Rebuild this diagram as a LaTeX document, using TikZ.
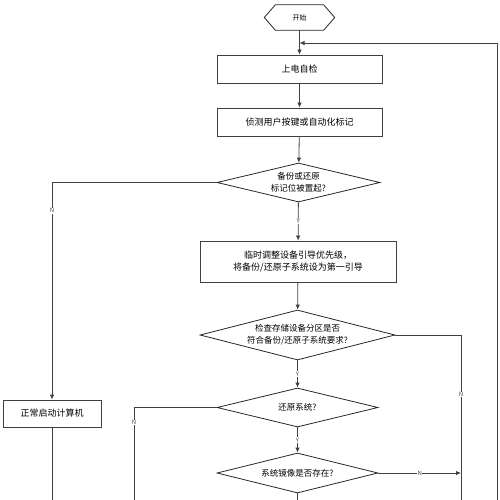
\documentclass[tikz,border=0pt]{standalone}
\usepackage{fontspec}
\setmainfont{Noto Sans CJK SC}
\usetikzlibrary{shapes,arrows.meta,positioning,calc}
\usepackage{xcolor}

\begin{document}
\begin{tikzpicture}[x=1pt,y=-1pt,
    proc/.style={draw=black!75, line width=0.8pt, minimum height=28pt, inner sep=0pt,
                 align=center, font=\fontsize{9}{12}\selectfont},
    decide/.style={draw=black!85, line width=0.8pt, diamond, aspect=4.1, inner sep=0pt,
                   align=center, font=\fontsize{8.5}{12}\selectfont},
    yn/.style={font=\fontsize{6}{6}\selectfont, fill=white, inner sep=0.6pt, text=black!70},
    line/.style={draw=black!75, line width=0.8pt},
    arr/.style={line, -{Latex[length=5pt,width=4.5pt]}}]
            \useasboundingbox (0,0) rectangle (500,500);

            % Start
            \node[minimum width=70pt, minimum height=25pt, inner sep=0pt,
                  font=\fontsize{7}{7}\selectfont] (start) at (299.5,17.5) {开始};
            \draw[line, draw=black!85] (start.west) -- ([xshift=11pt]start.north west)
                -- ([xshift=-11pt]start.north east) -- (start.east)
                -- ([xshift=-11pt]start.south east) -- ([xshift=11pt]start.south west) -- cycle;

            % Main column
            \node[proc, minimum width=165pt] (power) at (299.5,69) {上电自检};
            \node[proc, minimum width=165pt] (detect) at (299.5,122) {侦测用户按键或自动化标记};
            \node[decide, minimum width=163pt, minimum height=39pt] (flag) at (298.5,182.5)
                {备份或还原\\标记位被置起?};
            \node[proc, minimum width=196pt, minimum height=41pt] (setboot) at (298,261.5)
                {临时调整设备引导优先级，\\将备份/还原子系统设为第一引导};
            \node[decide, aspect=3.9, minimum width=195pt, minimum height=50pt] (part) at (297.5,335)
                {检查存储设备分区是否\\符合备份/还原子系统要求?};
            \node[decide, minimum width=161pt, minimum height=39pt] (restore) at (297.5,407.5)
                {还原系统?};
            \node[decide, minimum width=161pt, minimum height=40pt] (image) at (297.5,473)
                {系统镜像是否存在?};

            % Left branch
            \node[proc, minimum width=98pt, minimum height=27pt] (normal) at (52,413.5) {正常启动计算机};

            % Free ends
            \coordinate (merge) at (299.5,43);
            \coordinate (loopend) at (497,500);
            \coordinate (partend) at (461,500);
            \coordinate (restend) at (134,500);
            \coordinate (imgN) at (461,473);
            \coordinate (imgend) at (297.5,500);
            \coordinate (normend) at (52,500);

            % Connectors
            \draw[arr] (start) -- (power);
            \draw[arr] (loopend) |- (merge);
            \draw[arr] (power) -- (detect);
            \draw[arr] (detect) -- (flag);
            \draw[arr] (flag.west) -| node[yn, pos=0.565] {N} (normal.north);
            \draw[arr] (flag) -- node[yn] {Y} (setboot);
            \draw[arr] (setboot) -- (part);
            \draw[line] (part.east) -| node[yn, pos=0.68] {N} (partend);
            \draw[arr] (part) -- node[yn] {Y} (restore);
            \draw[line] (restore.west) -| node[yn, pos=0.58] {N} (restend);
            \draw[arr] (restore) -- node[yn] {Y} (image);
            \draw[arr] (image.east) -- node[yn] {N} (imgN);
            \draw[line] (image.south) -- (imgend);
            \draw[line] (normal.south) -- (normend);
        \end{tikzpicture}
\end{document}
